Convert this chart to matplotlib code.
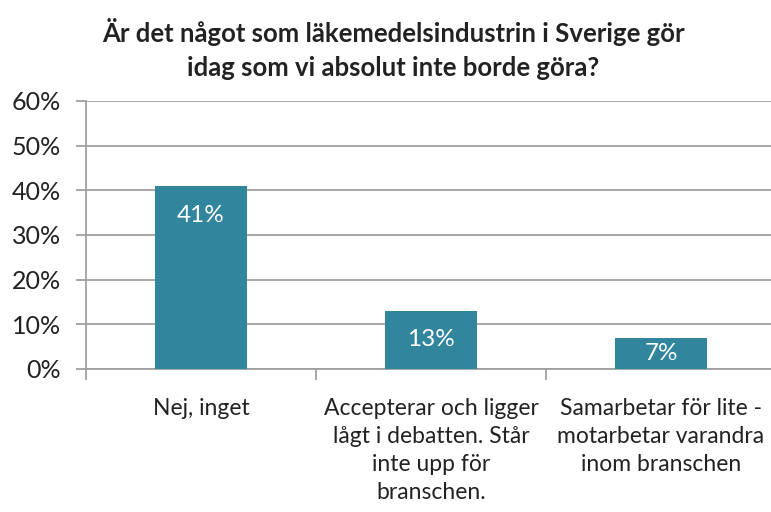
import matplotlib.pyplot as plt
import numpy as np

plt.rcParams['font.family'] = ['Lato', 'DejaVu Sans']

categories = ['Nej, inget',
              'Accepterar och ligger\nlågt i debatten. Står\ninte upp för\nbranschen.',
              'Samarbetar för lite -\nmotarbetar varandra\ninom branschen']
values = [41, 13, 7]
yticks = [0, 10, 20, 30, 40, 50, 60]
title = 'Är det något som läkemedelsindustrin i Sverige gör\nidag som vi absolut inte borde göra?'

bar_color = '#31859C'
grid_color = '#A0A0A0'

fig = plt.figure(figsize=(7.71, 5.12), dpi=100)
ax = fig.add_axes([86/771, 1-369/512, 690/771, 268/512])

x = np.arange(len(values))
bars = ax.bar(x, values, width=0.4, color=bar_color, zorder=3)
for b, v in zip(bars, values):
    ax.text(b.get_x() + b.get_width()/2, max(v - 6.6, v / 2), f'{v}%', ha='center',
            va='center', color='white', fontsize=17.5)

ax.set_xlim(-0.5, len(values) - 0.5)
ax.set_ylim(0, 60)
ax.set_yticks(yticks)
ax.set_yticklabels([f'{t}%' for t in yticks], fontsize=18, color='#222222')
ax.yaxis.grid(True, color=grid_color, linewidth=1.3, zorder=0)
ax.tick_params(axis='y', length=7, width=1.3, color=grid_color, pad=11)

ax.set_xticks(np.arange(len(values) + 1) - 0.5, minor=False)
ax.set_xticklabels([''] * (len(values) + 1))
ax.tick_params(axis='x', length=8, width=1.3, color=grid_color, direction='out')
for xi, lab in zip(x, categories):
    ax.text(xi, -6.4, lab, ha='center', va='top', fontsize=16.5, color='#222222',
            linespacing=1.42)

for s in ['top', 'right']:
    ax.spines[s].set_visible(False)
for s in ['left', 'bottom']:
    ax.spines[s].set_color(grid_color)
    ax.spines[s].set_linewidth(1.3)

fig.text(393/771, 1-49/512, title, ha='center', va='center', fontsize=18.5,
         fontweight='bold', color='#222222', linespacing=1.45)

fig.savefig('out.png', dpi=100)
